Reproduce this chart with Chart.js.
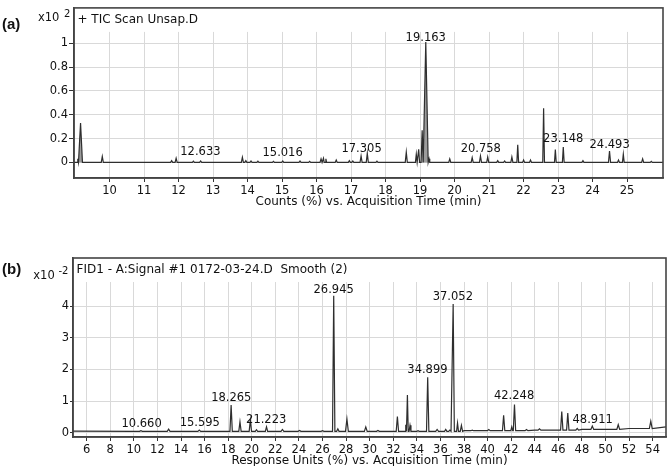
<!DOCTYPE html>
<html>
<head>
<meta charset="utf-8">
<script src="https://cdn.jsdelivr.net/npm/chart.js@4.4.1/dist/chart.umd.min.js"></script>
<style>
  body { margin: 0; background: #fff; }
  #wrap { position: relative; width: 669px; height: 466px; }
  #wrap canvas { position: absolute; left: 0; }
  #chartA { top: 0; }
  #chartB { top: 230px; }
</style>
</head>
<body>
<div id="wrap">
  <canvas id="chartA" width="669" height="210"></canvas>
  <canvas id="chartB" width="669" height="236"></canvas>
</div>
<script>
const FONT = '"DejaVu Sans"';

// ---- panel (a): TIC scan, counts x10^2
const baseTimesA = [8.97, 26.04];
const baseLevelsA = [0, 0];
const peakTimesA = [9.08, 9.16, 9.79, 11.80, 11.93, 12.43, 12.64, 13.85, 13.95, 14.1, 14.3, 14.75,
  15.02, 15.52, 15.8, 16.13, 16.2, 16.27, 16.57, 16.95, 17.05, 17.29, 17.47, 17.75,
  18.60, 18.89, 18.96, 19.06, 19.165, 19.26, 19.86, 20.51, 20.75, 20.96, 21.25, 21.45,
  21.66, 21.83, 22.0, 22.2, 22.58, 22.92, 23.15, 23.72, 24.49, 24.75, 24.89, 25.45, 25.7];
const peakHeightsA = [0.03, 0.33, 0.05, 0.015, 0.035, 0.01, 0.012, 0.043, 0.015, 0.012, 0.01, 0.008,
  0.012, 0.012, 0.008, 0.03, 0.035, 0.03, 0.02, 0.015, 0.012, 0.054, 0.076, 0.01,
  0.086, 0.068, 0.11, 0.27, 1.01, 0.03, 0.03, 0.04, 0.054, 0.045, 0.015, 0.012,
  0.046, 0.148, 0.02, 0.02, 0.455, 0.108, 0.129, 0.015, 0.094, 0.02, 0.068, 0.03, 0.008];
const peakWidthsA = [0.02, 0.055, 0.03, 0.03, 0.03, 0.03, 0.03, 0.03, 0.03, 0.03, 0.03, 0.03,
  0.03, 0.03, 0.03, 0.03, 0.02, 0.02, 0.03, 0.03, 0.03, 0.03, 0.03, 0.03,
  0.03, 0.025, 0.025, 0.03, 0.07, 0.02, 0.03, 0.03, 0.03, 0.03, 0.03, 0.03,
  0.03, 0.025, 0.03, 0.03, 0.025, 0.025, 0.025, 0.03, 0.03, 0.03, 0.025, 0.03, 0.03];
const shadedA = [[9.1, 9.22], [19.03, 19.24]];
const labelTextsA = ['12.633', '15.016', '17.305', '19.163', '20.758', '23.148', '24.493'];
const labelHeightsA = [0.086, 0.08, 0.11, 1.046, 0.113, 0.194, 0.148];
const xTicksA = [10, 11, 12, 13, 14, 15, 16, 17, 18, 19, 20, 21, 22, 23, 24, 25];
const yTicksA = [0, 0.2, 0.4, 0.6, 0.8, 1];

// ---- panel (b): FID signal, response units x10^-2
const baseTimesB = [4.84, 10, 20, 30, 38, 44, 48, 52, 55.13];
const baseLevelsB = [0.05, 0.04, 0.04, 0.04, 0.06, 0.08, 0.1, 0.13, 0.18];
const peakTimesB = [10.6, 12.95, 15.55, 18.25, 19.0, 19.88, 20.4, 21.25, 22.6, 24.05, 26.0, 26.95,
  27.3, 28.07, 29.67, 30.7, 32.35, 33.06, 33.2, 33.42, 34.1, 34.92, 35.72, 36.45, 36.8,
  37.08, 37.45, 37.78, 38.7, 40.1, 41.36, 42.05, 42.28, 43.3, 44.4, 46.29, 46.8, 47.6,
  48.88, 51.08, 53.84];
const peakHeightsB = [0.06, 0.11, 0.08, 0.87, 0.34, 0.40, 0.09, 0.18, 0.10, 0.07, 0.06, 4.33,
  0.12, 0.43, 0.18, 0.07, 0.51, 0.25, 1.19, 0.23, 0.06, 1.75, 0.1, 0.1, 0.08,
  4.07, 0.3, 0.23, 0.08, 0.1, 0.55, 0.18, 0.89, 0.1, 0.12, 0.67, 0.62, 0.13,
  0.21, 0.25, 0.36];
const peakWidthsB = [0.12, 0.12, 0.12, 0.1, 0.1, 0.1, 0.1, 0.1, 0.12, 0.12, 0.12, 0.1,
  0.1, 0.12, 0.12, 0.12, 0.1, 0.06, 0.07, 0.08, 0.1, 0.1, 0.12, 0.1, 0.1,
  0.1, 0.08, 0.1, 0.12, 0.12, 0.1, 0.08, 0.1, 0.12, 0.12, 0.1, 0.1, 0.12,
  0.12, 0.12, 0.12];
const labelTextsB = ['10.660', '15.595', '18.265', '21.223', '26.945', '34.899', '37.052', '42.248', '48.911'];
const labelHeightsB = [0.28, 0.29, 1.11, 0.41, 4.5, 1.99, 4.29, 1.15, 0.39];
const xTicksB = [6, 8, 10, 12, 14, 16, 18, 20, 22, 24, 26, 28, 30, 32, 34, 36, 38, 40, 42, 44, 46, 48, 50, 52, 54];
const yTicksB = [0, 1, 2, 3, 4];

// baseline level of the last knot at or before t
function levelAt(times, levels, t) {
  let b = levels[0];
  for (let i = 0; i < times.length; i++) if (times[i] <= t) b = levels[i];
  return b;
}

function buildTrace(baseTimes, baseLevels, times, heights, widths) {
  const pts = baseTimes.map((t, i) => ({ x: t, y: baseLevels[i] }));
  times.forEach((t, i) => {
    const b = levelAt(baseTimes, baseLevels, t);
    pts.push({ x: t - widths[i], y: b }, { x: t, y: heights[i] }, { x: t + widths[i], y: b });
  });
  pts.sort((p, q) => p.x - q.x);
  return pts;
}

function decor(p) {
  return {
    id: 'decor',
    beforeDatasetsDraw(chart) {
      const { ctx, chartArea: a } = chart;
      ctx.save();
      ctx.fillStyle = '#fff';
      ctx.fillRect(a.left + 1, a.top, a.width - 2, p.band);
      ctx.restore();
    },
    afterDraw(chart) {
      const { ctx, chartArea: a, scales: { x, y } } = chart;
      ctx.save();
      ctx.strokeStyle = '#444';
      ctx.lineWidth = 1.6;
      ctx.strokeRect(a.left, a.top, a.width, a.height);
      ctx.fillStyle = '#111';
      ctx.textBaseline = 'middle';
      ctx.font = '12px ' + FONT;
      ctx.textAlign = 'left';
      ctx.fillText(p.title, a.left + 3.5, a.top + 12.3);
      ctx.textAlign = 'center';
      ctx.fillText(p.axisTitle, (a.left + a.right) / 2, a.bottom + p.axisTitleDy);
      ctx.font = '11.5px ' + FONT;
      p.labels.forEach((txt, i) => {
        ctx.fillText(txt, x.getPixelForValue(Number(txt)), y.getPixelForValue(p.labelHeights[i]));
      });
      ctx.textAlign = 'left';
      ctx.fillText('x10', p.multX, p.multY);
      ctx.font = '10px ' + FONT;
      ctx.fillText(p.exp, p.expX, p.multY - 4);
      ctx.font = 'bold 15px "Liberation Sans"';
      ctx.fillText(p.letter, 2, p.letterY);
      ctx.restore();
    }
  };
}

function makeChart(id, p) {
  const trace = buildTrace(p.baseTimes, p.baseLevels, p.times, p.heights, p.widths);
  const datasets = [{
    data: trace, borderColor: '#2e2e2e', borderWidth: 1.2, pointRadius: 0, tension: 0, fill: false
  }];
  p.shaded.forEach(r => {
    datasets.push({
      data: trace.filter(pt => pt.x >= r[0] && pt.x <= r[1]),
      borderWidth: 0, pointRadius: 0, backgroundColor: '#9c9c9c', fill: 'origin'
    });
  });
  return new Chart(document.getElementById(id), {
    type: 'line',
    data: { datasets },
    options: {
      responsive: false, animation: false, devicePixelRatio: 1,
      layout: { padding: p.padding },
      plugins: { legend: { display: false }, tooltip: { enabled: false } },
      scales: {
        x: {
          type: 'linear', min: p.xMin, max: p.xMax,
          afterBuildTicks: s => { s.ticks = p.xTicks.map(v => ({ value: v })); },
          afterFit: s => { s.height = p.xAxisH; },
          grid: { color: '#d9d9d9', tickColor: '#333', tickLength: 4 },
          border: { color: '#444', width: 1.6 },
          ticks: { font: { family: 'DejaVu Sans', size: 11.5 }, color: '#111', padding: 2,
                   maxRotation: 0, autoSkip: false, callback: v => String(v) }
        },
        y: {
          min: p.yMin, max: p.yMax,
          afterBuildTicks: s => { s.ticks = p.yTicks.map(v => ({ value: v })); },
          afterFit: s => { s.width = p.yAxisW; },
          grid: { color: '#d9d9d9', tickColor: '#333', tickLength: p.yTickLen },
          border: { color: '#444', width: 1.6 },
          ticks: { font: { family: 'DejaVu Sans', size: 11.5 }, color: '#111', padding: 1,
                   callback: v => String(v) }
        }
      }
    },
    plugins: [decor(p)]
  });
}

makeChart('chartA', {
  baseTimes: baseTimesA, baseLevels: baseLevelsA,
  times: peakTimesA, heights: peakHeightsA, widths: peakWidthsA, shaded: shadedA,
  labels: labelTextsA, labelHeights: labelHeightsA,
  xTicks: xTicksA, yTicks: yTicksA,
  xMin: 8.97, xMax: 26.04, yMin: -0.131, yMax: 1.296,
  padding: { top: 1, right: 6, left: 0, bottom: 0 }, yAxisW: 74, xAxisH: 32, yTickLen: 5,
  band: 24, title: '+ TIC Scan Unsap.D',
  axisTitle: 'Counts (%) vs. Acquisition Time (min)', axisTitleDy: 24,
  multX: 38, multY: 18.3, exp: '2', expX: 64, letter: '(a)', letterY: 25
});

makeChart('chartB', {
  baseTimes: baseTimesB, baseLevels: baseLevelsB,
  times: peakTimesB, heights: peakHeightsB, widths: peakWidthsB, shaded: [],
  labels: labelTextsB, labelHeights: labelHeightsB,
  xTicks: xTicksB, yTicks: yTicksB,
  xMin: 4.84, xMax: 55.13, yMin: -0.139, yMax: 5.525,
  padding: { top: 28, right: 3, left: 0, bottom: 0 }, yAxisW: 73, xAxisH: 29, yTickLen: 3,
  band: 24, title: 'FID1 - A:Signal #1 0172-03-24.D  Smooth (2)',
  axisTitle: 'Response Units (%) vs. Acquisition Time (min)', axisTitleDy: 24,
  multX: 33.3, multY: 45.7, exp: '-2', expX: 58.5, letter: '(b)', letterY: 40
});
</script>
</body>
</html>
